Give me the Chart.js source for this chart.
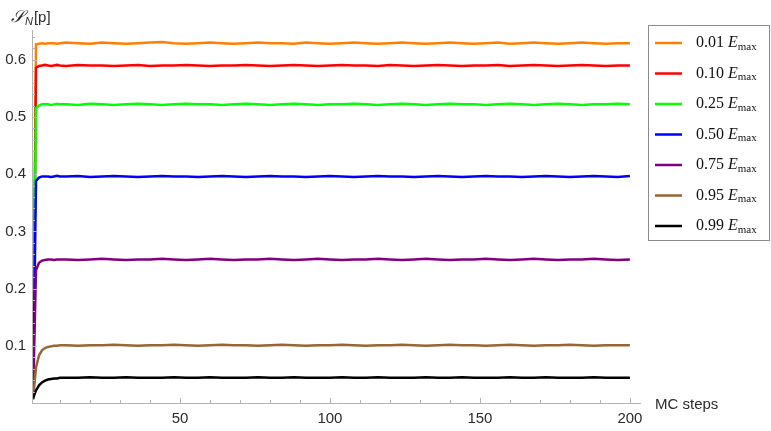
<!DOCTYPE html>
<html lang="en">
<head>
    <meta charset="UTF-8">
    <title>S_N[p] vs MC steps</title>
    <script src="https://cdn.jsdelivr.net/npm/chart.js"></script>
    <style>
        body { margin: 0; padding: 0; background: #fff; }
        #wrap { width: 771px; height: 431px; }
    </style>
</head>
<body>
    <div id="wrap"><canvas id="chart" width="771" height="431"></canvas></div>

    <script>
        // MC step positions that were sampled
        const steps = [1, 2, 3, 4, 5, 6, 7, 8, 9, 10,
            12, 16, 20, 24, 28, 32, 36, 40, 44, 48, 52, 56, 60, 64, 68, 72, 76, 80, 84, 88,
            92, 96, 100, 104, 108, 112, 116, 120, 124, 128, 132, 136, 140, 144, 148, 152,
            156, 160, 164, 168, 172, 176, 180, 184, 188, 192, 196, 200];

        const labels = ['0.01', '0.10', '0.25', '0.50', '0.75', '0.95', '0.99'];
        const colors = ['#ff8000', '#ff0000', '#00ff00', '#0000ff', '#800080', '#996633', '#000000'];

        const e001 = [0.008, 0.627, 0.628, 0.629, 0.628, 0.629, 0.629, 0.629, 0.628, 0.629,
            0.630, 0.629, 0.628, 0.630, 0.629, 0.628, 0.629, 0.630, 0.631, 0.629,
            0.628, 0.629, 0.630, 0.629, 0.628, 0.629, 0.630, 0.629, 0.629, 0.628,
            0.630, 0.629, 0.628, 0.629, 0.630, 0.629, 0.628, 0.629, 0.630, 0.629,
            0.628, 0.629, 0.630, 0.629, 0.628, 0.629, 0.630, 0.628, 0.629, 0.630,
            0.629, 0.628, 0.629, 0.630, 0.629, 0.628, 0.629, 0.629];
        const e010 = [0.008, 0.586, 0.589, 0.590, 0.591, 0.590, 0.589, 0.590, 0.591, 0.590,
            0.589, 0.591, 0.590, 0.590, 0.589, 0.590, 0.591, 0.589, 0.590, 0.590,
            0.591, 0.590, 0.589, 0.590, 0.590, 0.591, 0.590, 0.589, 0.590, 0.591,
            0.590, 0.589, 0.590, 0.591, 0.590, 0.590, 0.589, 0.591, 0.590, 0.589,
            0.590, 0.591, 0.590, 0.589, 0.590, 0.590, 0.591, 0.589, 0.590, 0.591,
            0.590, 0.589, 0.590, 0.591, 0.590, 0.589, 0.590, 0.590];
        const e025 = [0.008, 0.515, 0.520, 0.522, 0.522, 0.522, 0.521, 0.522, 0.523, 0.522,
            0.522, 0.521, 0.523, 0.522, 0.521, 0.522, 0.523, 0.522, 0.521, 0.522,
            0.523, 0.522, 0.522, 0.521, 0.522, 0.523, 0.522, 0.521, 0.522, 0.523,
            0.522, 0.521, 0.522, 0.522, 0.523, 0.522, 0.521, 0.522, 0.523, 0.522,
            0.521, 0.522, 0.523, 0.522, 0.522, 0.521, 0.522, 0.523, 0.522, 0.521,
            0.522, 0.523, 0.522, 0.521, 0.522, 0.522, 0.523, 0.522];
        const e050 = [0.008, 0.388, 0.394, 0.396, 0.396, 0.396, 0.395, 0.396, 0.397, 0.396,
            0.396, 0.397, 0.395, 0.396, 0.397, 0.396, 0.395, 0.396, 0.397, 0.396,
            0.396, 0.395, 0.396, 0.397, 0.396, 0.395, 0.396, 0.397, 0.396, 0.396,
            0.395, 0.396, 0.397, 0.396, 0.395, 0.396, 0.397, 0.396, 0.396, 0.395,
            0.396, 0.397, 0.396, 0.395, 0.396, 0.397, 0.396, 0.396, 0.395, 0.396,
            0.397, 0.396, 0.395, 0.396, 0.397, 0.396, 0.395, 0.397];
        const e075 = [0.008, 0.232, 0.245, 0.249, 0.250, 0.251, 0.251, 0.250, 0.251, 0.251,
            0.251, 0.250, 0.251, 0.252, 0.251, 0.250, 0.251, 0.251, 0.252, 0.251,
            0.250, 0.251, 0.252, 0.251, 0.250, 0.251, 0.251, 0.252, 0.251, 0.250,
            0.251, 0.252, 0.251, 0.250, 0.251, 0.251, 0.252, 0.251, 0.250, 0.251,
            0.252, 0.251, 0.250, 0.251, 0.251, 0.252, 0.251, 0.250, 0.251, 0.252,
            0.251, 0.250, 0.251, 0.251, 0.252, 0.251, 0.250, 0.251];
        const e095 = [0.006, 0.062, 0.083, 0.092, 0.096, 0.098, 0.099, 0.100, 0.100, 0.101,
            0.101, 0.100, 0.101, 0.101, 0.102, 0.101, 0.100, 0.101, 0.101, 0.102,
            0.101, 0.100, 0.101, 0.102, 0.101, 0.101, 0.100, 0.101, 0.102, 0.101,
            0.100, 0.101, 0.101, 0.102, 0.101, 0.100, 0.101, 0.101, 0.102, 0.101,
            0.100, 0.101, 0.102, 0.101, 0.101, 0.100, 0.101, 0.102, 0.101, 0.100,
            0.101, 0.101, 0.102, 0.101, 0.100, 0.101, 0.101, 0.101];
        const e099 = [0.008, 0.022, 0.031, 0.036, 0.039, 0.041, 0.042, 0.043, 0.043, 0.044,
            0.044, 0.044, 0.045, 0.044, 0.044, 0.045, 0.044, 0.044, 0.044, 0.045,
            0.044, 0.044, 0.045, 0.044, 0.044, 0.044, 0.045, 0.044, 0.044, 0.045,
            0.044, 0.044, 0.044, 0.045, 0.044, 0.044, 0.045, 0.044, 0.044, 0.044,
            0.045, 0.044, 0.044, 0.045, 0.044, 0.044, 0.044, 0.045, 0.044, 0.044,
            0.045, 0.044, 0.044, 0.044, 0.045, 0.044, 0.044, 0.044];

        const series = [e001, e010, e025, e050, e075, e095, e099];

        const xMajor = [50, 100, 150, 200];
        const yMajor = [0.1, 0.2, 0.3, 0.4, 0.5, 0.6];

        const axisColor = '#b4b4b4';
        const textColor = '#2b2b2b';
        const sansFont = '"Liberation Sans", Arial, sans-serif';
        const serifFont = '"Liberation Serif", "Times New Roman", serif';

        // Mathematica style ticks (inside), axis labels and boxed legend
        const decorPlugin = {
            id: 'decor',
            afterDraw(chart) {
                const ctx = chart.ctx;
                const xs = chart.scales.x, ys = chart.scales.y;
                const area = chart.chartArea;
                ctx.save();
                ctx.strokeStyle = axisColor;
                ctx.lineWidth = 1;
                ctx.beginPath();
                // axis lines
                ctx.moveTo(area.left + 0.5, area.top);
                ctx.lineTo(area.left + 0.5, area.bottom);
                ctx.moveTo(area.left, area.bottom + 0.5);
                ctx.lineTo(area.right, area.bottom + 0.5);
                // x ticks
                for (let v = 10; v <= 200; v += 10) {
                    const px = Math.round(xs.getPixelForValue(v)) + 0.5;
                    const len = v % 50 === 0 ? 5 : 3;
                    ctx.moveTo(px, area.bottom);
                    ctx.lineTo(px, area.bottom - len);
                }
                // y ticks
                for (let i = 1; i <= 32; i++) {
                    const v = i * 0.02;
                    const py = Math.round(ys.getPixelForValue(v)) + 0.5;
                    const len = i % 5 === 0 ? 5 : 3;
                    ctx.moveTo(area.left, py);
                    ctx.lineTo(area.left + len, py);
                }
                ctx.stroke();

                // tick labels
                ctx.fillStyle = textColor;
                ctx.font = '15px ' + sansFont;
                ctx.textAlign = 'center';
                ctx.textBaseline = 'top';
                xMajor.forEach(v => ctx.fillText(String(v), xs.getPixelForValue(v), area.bottom + 8));
                ctx.textAlign = 'right';
                ctx.textBaseline = 'middle';
                yMajor.forEach(v => ctx.fillText(v.toFixed(1), area.left - 6, ys.getPixelForValue(v)));

                // axis titles
                ctx.textAlign = 'left';
                ctx.textBaseline = 'alphabetic';
                ctx.fillText('MC steps', 655, 409);
                ctx.font = 'italic 17px ' + serifFont;
                ctx.fillText('\u{1D4AE}', 11, 22);
                const sW = ctx.measureText('\u{1D4AE}').width;
                ctx.font = 'italic 11px ' + sansFont;
                ctx.fillText('N', 11 + sW + 1, 25);
                const nW = ctx.measureText('N').width;
                ctx.font = '15px ' + sansFont;
                ctx.fillText('[p]', 11 + sW + nW + 2, 22);

                // legend box
                ctx.strokeStyle = '#8c8c8c';
                ctx.strokeRect(648.5, 25.5, 121, 215);
                labels.forEach((lab, i) => {
                    const y = 43 + i * 30.5;
                    ctx.strokeStyle = colors[i];
                    ctx.lineWidth = 2.5;
                    ctx.beginPath();
                    ctx.moveTo(655, y);
                    ctx.lineTo(682, y);
                    ctx.stroke();
                    ctx.fillStyle = '#111';
                    ctx.font = '16px ' + serifFont;
                    ctx.textBaseline = 'middle';
                    let x = 696;
                    ctx.fillText(lab + ' ', x, y);
                    x += ctx.measureText(lab + ' ').width;
                    ctx.font = 'italic 16px ' + serifFont;
                    ctx.fillText('E', x, y);
                    x += ctx.measureText('E').width;
                    ctx.font = '11px ' + serifFont;
                    ctx.fillText('max', x, y + 4);
                });
                ctx.restore();
            }
        };

        const datasets = series.map((vals, i) => ({
            label: labels[i] + ' Emax',
            data: steps.map((s, j) => ({ x: s, y: vals[j] })),
            borderColor: colors[i],
            borderWidth: 2.5,
            pointRadius: 0,
            tension: 0,
            fill: false
        }));
        // draw black first so orange sits on top like the reference
        datasets.reverse();

        new Chart(document.getElementById('chart'), {
            type: 'line',
            data: { datasets },
            plugins: [decorPlugin],
            options: {
                responsive: false,
                animation: false,
                devicePixelRatio: 1,
                layout: { padding: { left: 32, right: 130, top: 30, bottom: 28 } },
                plugins: { legend: { display: false }, tooltip: { enabled: false } },
                scales: {
                    x: { type: 'linear', min: 0.667, max: 203.7, display: false },
                    y: { type: 'linear', min: 0, max: 0.652, display: false }
                }
            }
        });
    </script>
</body>
</html>
